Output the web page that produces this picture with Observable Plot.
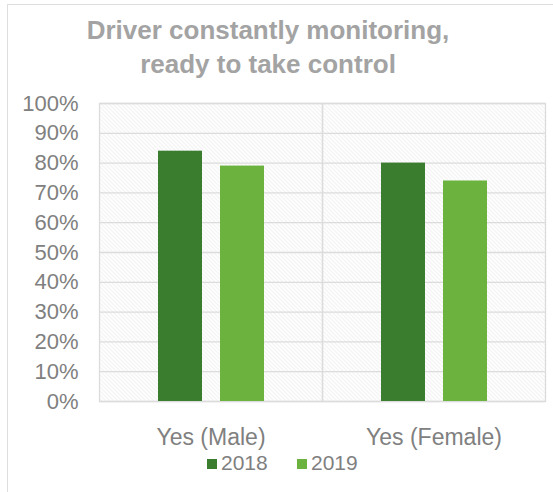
<!DOCTYPE html>
<html>
<head>
<meta charset="utf-8">
<script src="https://cdn.jsdelivr.net/npm/d3@7"></script>
<script src="https://cdn.jsdelivr.net/npm/@observablehq/plot@0.6"></script>
<style>
  html, body { margin: 0; padding: 0; background: #fff; }
  #wrap { position: relative; width: 553px; height: 492px; overflow: hidden; font-family: "Liberation Sans", Arial, sans-serif; }
  #frameTop { position: absolute; left: 7px; top: 4px; right: 0; height: 0; border-top: 1.5px solid #dedede; }
  #frameLeft { position: absolute; left: 7px; top: 4px; bottom: 0; width: 0; border-left: 1.5px solid #dedede; }
  #title { position: absolute; left: 7px; width: 522px; top: 13px; text-align: center; font-weight: bold; font-size: 26px; line-height: 34px; color: #a3a3a3; }
  #chart { position: absolute; left: 0; top: 92px; }
  #chart svg g[aria-label="y-axis tick label"] text { font-size: 22px; }
  #chart svg g[aria-label="fx-axis tick label"] text { font-size: 23px; }
  #legend { position: absolute; left: 0; top: 455px; width: 553px; font-size: 21px; color: #7f7f7f; }
  .item { position: absolute; top: 0; white-space: nowrap; line-height: 16px; }
  .sw { display: inline-block; width: 10px; height: 10px; margin-right: 4px; vertical-align: 1px; }
</style>
</head>
<body>
<div id="wrap">
  <div id="frameTop"></div>
  <div id="frameLeft"></div>
  <div id="title">Driver constantly monitoring,<br>ready to take control</div>
  <div id="chart"></div>
  <div id="legend"></div>
</div>
<script>
const categories = ["Yes (Male)", "Yes (Female)"];
const years = ["2018", "2019"];
const values2018 = [84, 80];
const values2019 = [79, 74];
const yTicks = [0, 10, 20, 30, 40, 50, 60, 70, 80, 90, 100];
const colors = ["#3a7d2e", "#6cb23f"];

const data = [];
categories.forEach((c, i) => {
  data.push({category: c, year: years[0], value: values2018[i]});
  data.push({category: c, year: years[1], value: values2019[i]});
});

const svg = Plot.plot({
  width: 553,
  height: 360,
  marginTop: 11,
  marginBottom: 51,
  marginLeft: 98,
  marginRight: 8,
  style: {fontFamily: "Liberation Sans, Arial, sans-serif", background: "transparent"},
  fx: {domain: categories, padding: 0},
  x: {domain: years, paddingInner: 0.296, paddingOuter: 0.936, axis: null},
  y: {domain: [0, 100]},
  color: {domain: years, range: colors},
  marks: [
    Plot.frame({fill: "url(#hatch)", stroke: null}),
    Plot.gridY(yTicks, {stroke: "#dcdcdc", strokeOpacity: 1, strokeWidth: 1.3}),
    Plot.frame({stroke: "#dcdcdc", strokeWidth: 1.3}),
    Plot.barY(data, {fx: "category", x: "year", y: "value", fill: "year"}),
    Plot.axisY({ticks: yTicks, tickSize: 0, tickPadding: 21, tickFormat: d => d + "%", fontSize: 22, fill: "#808080", label: null}),
    Plot.axisFx({anchor: "bottom", tickSize: 0, tickPadding: 27, fontSize: 23, fill: "#808080", label: null})
  ]
});

const defs = d3.select(svg).insert("defs", ":first-child");
const pat = defs.append("pattern")
  .attr("id", "hatch")
  .attr("patternUnits", "userSpaceOnUse")
  .attr("width", 4).attr("height", 4);
pat.append("rect").attr("width", 4).attr("height", 4).attr("fill", "#ffffff");
pat.append("path")
  .attr("d", "M0,0 L4,4 M-1,3 L1,5 M3,-1 L5,1")
  .attr("stroke", "#e6e6e6")
  .attr("stroke-width", 0.9);

document.getElementById("chart").appendChild(svg);

const legend = document.getElementById("legend");
const legendX = [207, 297];
years.forEach((y, i) => {
  const it = document.createElement("div");
  it.className = "item";
  it.style.left = legendX[i] + "px";
  it.innerHTML = `<span class="sw" style="background:${colors[i]}"></span>${y}`;
  legend.appendChild(it);
});
</script>
</body>
</html>
